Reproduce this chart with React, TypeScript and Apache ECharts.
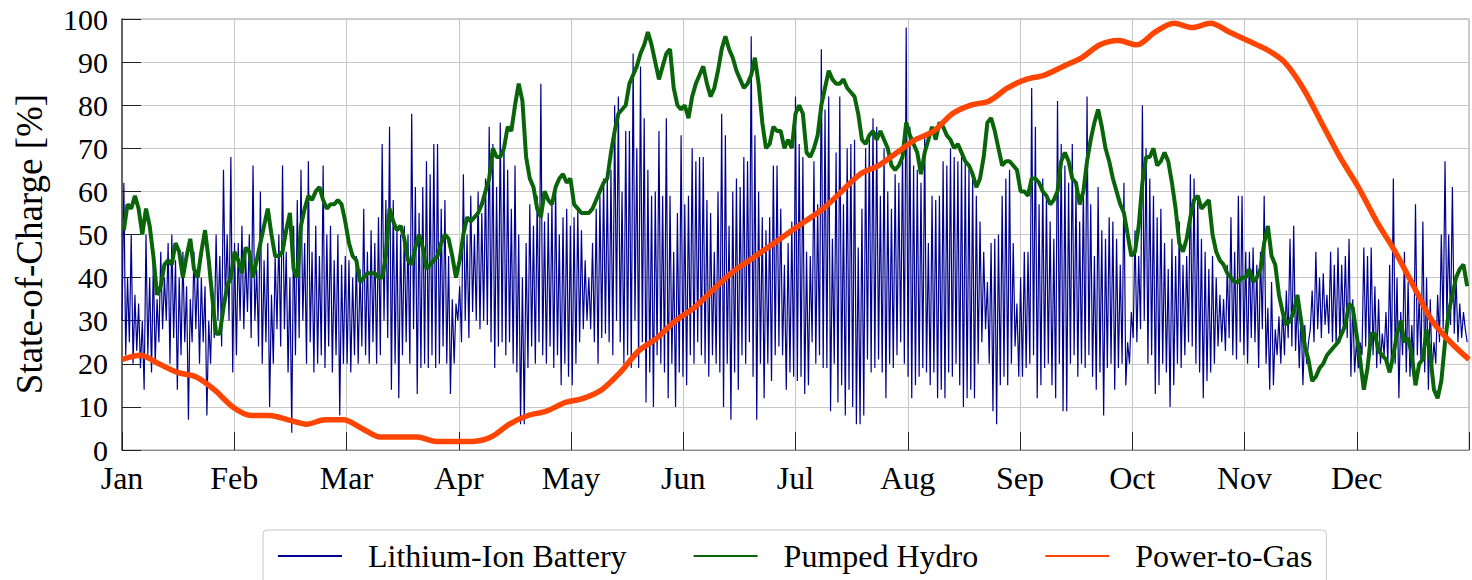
import React, { useEffect, useRef } from "react";
import * as echarts from "echarts";

const MONTHS = ["Jan", "Feb", "Mar", "Apr", "May", "Jun", "Jul", "Aug", "Sep", "Oct", "Nov", "Dec"];
const HOURS_PER_YEAR = 8760;
const MONTH_STEP = 730;
const Y_TITLE = "State-of-Charge [%]";

// Lithium-Ion battery: daily minimum (night) and maximum (day) state-of-charge [%]
const LI_MIN = [
  30, 22, 25, 20, 23, 19, 14, 22, 18, 20, 25, 28, 30, 20, 26, 14, 22, 25, 7, 25, 28, 20, 25, 8, 20, 26, 30, 24, 34, 30, 18,
  22, 30, 28, 32, 26, 30, 24, 20, 25, 10, 20, 28, 24, 28, 18, 4, 22, 26, 30, 20, 25, 18, 20, 22, 19, 24, 18, 22, 8, 20,
  20, 18, 22, 20, 24, 22, 20, 25, 20, 22, 30, 26, 14, 20, 12, 22, 25, 20, 28, 13, 19, 20, 19, 22, 19, 20, 24, 20, 13, 20,
  30, 25, 30, 26, 32, 30, 28, 30, 29, 25, 19, 24, 25, 22, 25, 20, 18, 6, 6, 19, 24, 20, 25, 22, 20, 24, 19, 22, 15, 20, 17,
  15, 20, 25, 28, 30, 28, 25, 20, 26, 27, 25, 22, 30, 25, 20, 22, 19, 30, 19, 25, 11, 18, 10, 22, 20, 18, 12, 20, 10, 18, 17,
  15, 22, 20, 25, 22, 20, 17, 22, 20, 18, 10, 20, 7, 18, 14, 22, 20, 25, 17, 7, 20, 12, 20, 16, 22, 24, 22, 14, 18, 17,
  16, 17, 13, 15, 25, 20, 22, 19, 19, 9, 20, 11, 15, 8, 14, 10, 6, 6, 8, 21, 18, 19, 21, 18, 12, 20, 19, 22, 25, 20, 17,
  12, 15, 17, 19, 18, 15, 18, 12, 14, 12, 18, 17, 20, 15, 10, 12, 14, 12, 20, 25, 28, 20, 9, 6, 15, 17, 15, 20, 24, 17,
  17, 19, 20, 22, 12, 15, 19, 20, 15, 12, 20, 9, 9, 20, 22, 17, 20, 19, 22, 17, 14, 18, 8, 19, 20, 14, 19, 20, 15, 20, 26,
  25, 28, 30, 20, 22, 13, 15, 20, 18, 10, 15, 20, 19, 22, 25, 24, 20, 18, 12, 16, 18, 20, 24, 25, 23, 26, 22, 21, 25, 22,
  20, 26, 25, 19, 28, 20, 14, 15, 22, 20, 22, 26, 24, 23, 19, 15, 20, 28, 25, 28, 26, 29, 27, 25, 24, 25, 27, 26, 17, 18,
  19, 22, 24, 20, 22, 19, 20, 22, 20, 19, 20, 12, 22, 18, 17, 19, 22, 20, 18, 14, 18, 20, 25, 28, 30, 29, 27, 25, 26, 28,
];
const LI_MAX = [
  62, 40, 50, 36, 34, 30, 50, 40, 44, 35, 46, 40, 48, 50, 44, 40, 46, 38, 35, 46, 42, 40, 38, 30, 38, 50, 45, 65, 50, 68, 48,
  48, 52, 45, 50, 66, 42, 60, 44, 48, 36, 45, 50, 66, 46, 40, 52, 58, 65, 48, 67, 46, 52, 45, 66, 50, 52, 44, 50, 43, 45,
  44, 40, 45, 42, 56, 46, 51, 48, 54, 71, 58, 75, 58, 52, 50, 52, 50, 78, 61, 55, 61, 67, 64, 71, 71, 56, 58, 45, 35, 34,
  38, 64, 50, 59, 50, 60, 55, 63, 75, 71, 61, 76, 71, 65, 56, 66, 50, 40, 48, 57, 52, 59, 85, 53, 55, 58, 61, 50, 54, 56, 52,
  54, 56, 51, 44, 40, 48, 56, 59, 63, 63, 65, 80, 82, 60, 74, 74, 92, 70, 89, 77, 65, 59, 60, 74, 59, 77, 59, 46, 55, 73, 57,
  59, 70, 67, 68, 68, 58, 55, 46, 60, 78, 73, 52, 60, 63, 61, 68, 67, 96, 73, 60, 54, 51, 54, 66, 66, 56, 43, 48, 53, 82,
  71, 68, 46, 45, 67, 57, 93, 79, 82, 49, 69, 82, 57, 70, 71, 72, 47, 56, 70, 73, 77, 75, 59, 70, 60, 56, 64, 62, 70, 98, 75,
  66, 65, 62, 73, 48, 59, 58, 59, 67, 66, 70, 68, 67, 68, 67, 65, 63, 59, 53, 46, 39, 48, 49, 50, 59, 63, 65, 48, 34, 40,
  46, 46, 84, 75, 57, 63, 59, 53, 49, 81, 71, 66, 62, 71, 61, 53, 61, 82, 57, 45, 61, 51, 49, 54, 53, 49, 43, 62, 25, 32, 51,
  45, 80, 70, 63, 59, 54, 56, 48, 42, 49, 45, 53, 43, 45, 64, 63, 59, 49, 46, 42, 45, 40, 36, 35, 43, 54, 46, 59, 59, 46,
  46, 47, 43, 46, 59, 33, 39, 28, 31, 33, 37, 49, 52, 35, 32, 29, 25, 37, 46, 40, 41, 36, 46, 43, 47, 43, 45, 49, 35, 25,
  25, 47, 45, 47, 38, 35, 27, 32, 43, 63, 40, 32, 46, 39, 29, 57, 36, 53, 40, 35, 25, 36, 50, 67, 50, 61, 40, 34, 32, 25,
];

// Pumped hydro: daily state-of-charge [%]
const PHS = [
  51, 57, 56, 59, 56, 50, 56, 52, 45, 36, 38, 43, 44, 43, 48, 46, 40, 45, 49, 42, 40, 46, 51, 44, 35, 27, 27, 33, 38, 40, 46,
  44, 41, 47, 46, 40, 44, 48, 52, 56, 50, 45, 45, 46, 51, 55, 42, 40, 52, 56, 59, 58, 60, 61, 58, 56, 57, 57, 58, 57, 53,
  48, 45, 44, 39, 40, 41, 41, 41, 40, 40, 45, 56, 53, 51, 52, 49, 44, 43, 47, 50, 47, 42, 43, 44, 45, 48, 50, 49, 45, 40,
  44, 50, 54, 53, 54, 55, 57, 60, 63, 70, 68, 68, 70, 75, 74, 80, 85, 81, 68, 63, 61, 56, 54, 60, 58, 57, 61, 63, 64, 62, 63,
  57, 56, 55, 55, 55, 56, 58, 60, 62, 63, 69, 74, 78, 79, 80, 85, 87, 89, 92, 94, 97, 94, 90, 86, 89, 92, 93, 84, 80, 79, 80,
  77, 82, 85, 87, 89, 85, 82, 84, 88, 93, 96, 93, 91, 88, 86, 84, 85, 87, 91, 85, 76, 70, 71, 75, 74, 74, 70, 72, 70, 78,
  80, 78, 69, 68, 70, 73, 80, 84, 88, 86, 85, 85, 86, 84, 83, 82, 78, 72, 71, 73, 74, 72, 74, 72, 70, 66, 65, 66, 68, 76, 73,
  71, 69, 64, 69, 72, 75, 72, 76, 75, 73, 72, 70, 71, 69, 67, 66, 64, 61, 63, 68, 76, 77, 74, 70, 66, 67, 67, 66, 65, 60,
  60, 59, 63, 63, 62, 60, 59, 57, 58, 60, 67, 69, 67, 63, 62, 57, 60, 67, 72, 76, 79, 75, 70, 67, 63, 60, 57, 55, 50, 45, 46,
  52, 62, 68, 68, 70, 66, 67, 69, 67, 62, 56, 48, 46, 49, 54, 58, 59, 56, 57, 58, 50, 46, 44, 43, 41, 40, 39, 39, 40, 40,
  42, 39, 40, 42, 48, 52, 45, 43, 36, 32, 29, 30, 32, 36, 30, 24, 21, 16, 17, 19, 20, 22, 23, 24, 25, 27, 29, 34, 33, 27,
  21, 14, 19, 27, 27, 23, 22, 21, 18, 22, 27, 30, 25, 26, 22, 15, 20, 21, 28, 22, 14, 12, 16, 25, 32, 36, 40, 42, 43, 38,
];

// Power-to-Gas: state-of-charge [%] every 5 days
const P2G_STEP_DAYS = 5;
const P2G = [
  21, 22, 20, 18, 17, 14, 10, 8, 8, 7,
  6, 7, 7, 5, 3, 3, 3, 2, 2, 2,
  3, 6, 8, 9, 11, 12, 14, 18, 23, 26,
  30, 33, 37, 41, 44, 47, 50, 53, 56, 60,
  64, 66, 69, 72, 74, 78, 80, 81, 84, 86,
  87, 89, 91, 94, 95, 94, 97, 99, 98, 99,
  97, 95, 93, 90, 84, 76, 68, 61, 53, 46,
  38, 30, 25, 21,
];

const SERIES_NAMES = ["Lithium-Ion Battery", "Pumped Hydro", "Power-to-Gas"];
const FONT = "'Liberation Serif', 'Times New Roman', 'DejaVu Serif', serif";

export default function App() {
  const ref = useRef<HTMLDivElement>(null);

  useEffect(() => {
    if (!ref.current) return;
    const chart = echarts.init(ref.current, null, { renderer: "svg" });

    const liData: number[][] = [];
    for (let d = 0; d < LI_MIN.length; d++) {
      liData.push([d * 24, LI_MIN[d]]);
      liData.push([d * 24 + 12, LI_MAX[d]]);
    }
    const phsData = PHS.map((v, d) => [d * 24 + 12, v]);
    const p2gData = P2G.map((v, i) => [Math.min(i * P2G_STEP_DAYS * 24, HOURS_PER_YEAR), v]);

    chart.setOption({
      animation: false,
      backgroundColor: "#ffffff",
      grid: {
        left: 122,
        top: 19,
        width: 1351,
        height: 431,
        show: true,
        borderColor: "#9a9a9a",
        borderWidth: 1,
        backgroundColor: "transparent",
      },
      graphic: [
        {
          type: "text",
          x: 29,
          y: 244,
          rotation: Math.PI / 2,
          style: {
            text: Y_TITLE,
            fontFamily: FONT,
            fontSize: 37,
            fill: "#000",
            align: "center",
            verticalAlign: "middle",
          },
        },
      ],
      legend: {
        left: 263,
        top: 530,
        itemWidth: 64,
        itemHeight: 14,
        itemGap: 66,
        padding: [10, 14, 40, 14],
        borderColor: "#c8c8c8",
        borderWidth: 1,
        borderRadius: 4,
        backgroundColor: "#fff",
        itemStyle: { opacity: 0 },
        textStyle: { fontFamily: FONT, fontSize: 32, color: "#000", padding: [0, 0, 0, 21] },
        data: SERIES_NAMES,
      },
      xAxis: {
        type: "value",
        min: 0,
        max: HOURS_PER_YEAR,
        interval: MONTH_STEP,
        axisLine: { show: true, lineStyle: { color: "#888", width: 1.2 } },
        axisTick: { show: true, inside: true, length: 18, lineStyle: { color: "#222", width: 1 } },
        axisLabel: {
          fontFamily: FONT,
          fontSize: 32,
          lineHeight: 26,
          color: "#000",
          margin: 15,
          formatter: (v: number) => {
            const i = Math.round(v / MONTH_STEP);
            return i < MONTHS.length ? MONTHS[i] : "";
          },
        },
        splitLine: { show: true, lineStyle: { color: "#c8c8c8", width: 1 } },
      },
      yAxis: {
        type: "value",
        min: 0,
        max: 100,
        interval: 10,
        axisLine: { show: true, lineStyle: { color: "#444", width: 1.5 } },
        axisTick: { show: true, inside: true, length: 19, lineStyle: { color: "#222", width: 1 } },
        axisLabel: { fontFamily: FONT, fontSize: 30, lineHeight: 22, color: "#000", margin: 14 },
        splitLine: { show: true, lineStyle: { color: "#c8c8c8", width: 1 } },
      },
      series: [
        {
          name: SERIES_NAMES[0],
          type: "line",
          data: liData,
          symbol: "none",
          z: 2,
          lineStyle: { width: 1.2, color: "#00008f" },
          itemStyle: { color: "#00008f" },
        },
        {
          name: SERIES_NAMES[1],
          type: "line",
          data: phsData,
          symbol: "none",
          z: 3,
          lineStyle: { width: 4, color: "#0a640a" },
          itemStyle: { color: "#0a640a" },
        },
        {
          name: SERIES_NAMES[2],
          type: "line",
          data: p2gData,
          symbol: "none",
          smooth: 0.3,
          z: 4,
          lineStyle: { width: 5.5, color: "#ff4500" },
          itemStyle: { color: "#ff4500" },
        },
      ],
    });

    return () => chart.dispose();
  }, []);

  return (
    <div
      ref={ref}
      style={{ position: "absolute", left: 0, top: 0, width: 1472, height: 580 }}
    />
  );
}
